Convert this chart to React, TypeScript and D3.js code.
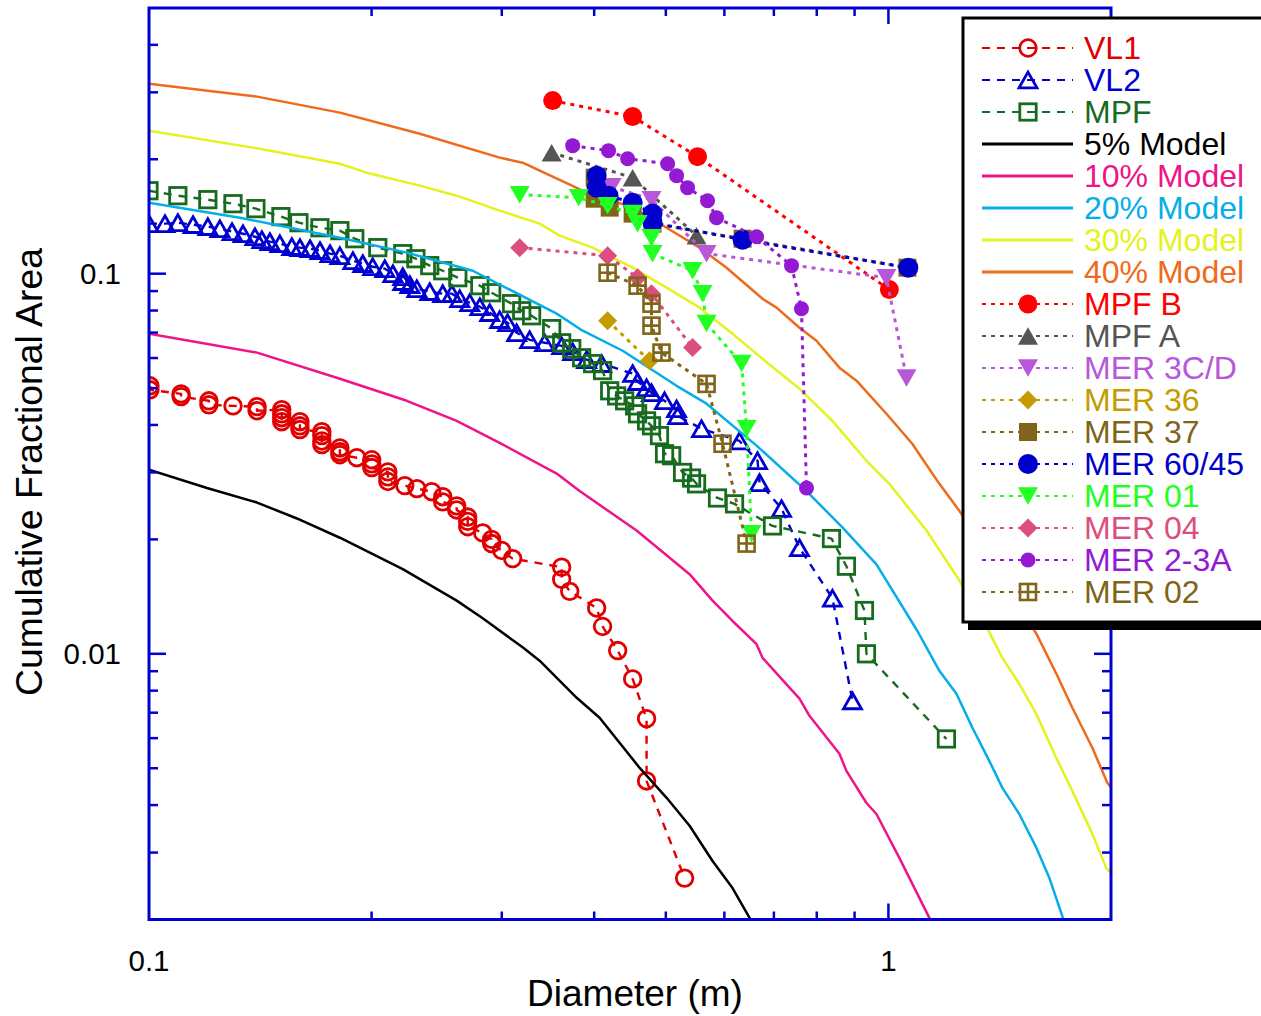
import * as d3 from "d3";

type Pt = [number, number];

// diameter (m), cumulative fractional area
const vl1: Pt[] = [
  [0.1003, 0.0507], [0.1003, 0.0495], [0.1105, 0.0483], [0.1105, 0.0475],
  [0.1205, 0.0463], [0.1205, 0.0452], [0.1299, 0.0449], [0.14, 0.0447], [0.14, 0.0436],
  [0.1512, 0.0439], [0.1512, 0.0428], [0.1512, 0.0418], [0.1512, 0.0408],
  [0.16, 0.0408], [0.16, 0.0398], [0.16, 0.0389],
  [0.1713, 0.0384], [0.1713, 0.0375], [0.1713, 0.0363], [0.1713, 0.0355],
  [0.1812, 0.0348], [0.1812, 0.034], [0.1812, 0.0334], [0.191, 0.0328],
  [0.2001, 0.0324], [0.2001, 0.0316], [0.2001, 0.0309],
  [0.2104, 0.0301], [0.2104, 0.0292], [0.2104, 0.0284],
  [0.2218, 0.0277], [0.2303, 0.0272], [0.2412, 0.0267],
  [0.2496, 0.0259], [0.2496, 0.0251], [0.2607, 0.0245], [0.2607, 0.0239],
  [0.2698, 0.0229], [0.2698, 0.0223], [0.2698, 0.0216], [0.2827, 0.0208],
  [0.2907, 0.02], [0.2907, 0.0195], [0.2999, 0.0187], [0.3103, 0.0178],
  [0.3615, 0.0169], [0.3615, 0.0157], [0.3707, 0.0146], [0.4031, 0.0132],
  [0.4106, 0.0118], [0.4304, 0.0102], [0.4509, 0.00859], [0.4709, 0.00675],
  [0.4709, 0.00463], [0.5301, 0.00257],
];

const vl2: Pt[] = [
  [0.1, 0.1354], [0.1051, 0.1354], [0.1094, 0.1362], [0.1147, 0.1346], [0.1201, 0.133],
  [0.1247, 0.1313], [0.1295, 0.129], [0.134, 0.1274], [0.1391, 0.1251], [0.1421, 0.1229],
  [0.1457, 0.1214], [0.1503, 0.1199], [0.156, 0.1178], [0.16, 0.1171], [0.1651, 0.1164],
  [0.1703, 0.115], [0.1757, 0.1129], [0.1812, 0.1115], [0.1887, 0.1082], [0.1946, 0.1063],
  [0.2007, 0.1043], [0.2084, 0.1031], [0.2137, 0.1], [0.2204, 0.0982], [0.2204, 0.0953],
  [0.2253, 0.0936], [0.2303, 0.0913], [0.2397, 0.0897], [0.2496, 0.0886], [0.2568, 0.0886],
  [0.2632, 0.0859], [0.2715, 0.0839], [0.2802, 0.0819], [0.2889, 0.079], [0.298, 0.0757],
  [0.3055, 0.0743], [0.3142, 0.0699], [0.3272, 0.067], [0.3428, 0.0658], [0.3615, 0.0646],
  [0.3741, 0.0623], [0.3907, 0.0594], [0.4094, 0.058], [0.4509, 0.0546], [0.4579, 0.052],
  [0.4709, 0.0501], [0.4782, 0.0486], [0.498, 0.0463], [0.517, 0.0441], [0.5187, 0.0423],
  [0.5588, 0.0391], [0.6289, 0.0363], [0.6653, 0.0322], [0.6695, 0.0282], [0.7169, 0.0241],
  [0.7581, 0.019], [0.8401, 0.014], [0.8941, 0.00752],
];

const mpf: Pt[] = [
  [0.1, 0.1653], [0.1094, 0.1604], [0.1201, 0.1566], [0.1299, 0.1528], [0.1395, 0.1483],
  [0.1508, 0.1413], [0.1595, 0.1362], [0.1703, 0.1321], [0.1812, 0.1298], [0.1898, 0.1236],
  [0.2039, 0.1171], [0.2204, 0.1129], [0.2296, 0.1095], [0.2397, 0.105], [0.2496, 0.1018],
  [0.2616, 0.0976], [0.2802, 0.093], [0.2907, 0.0891], [0.3093, 0.0834], [0.3192, 0.0799],
  [0.3292, 0.0775], [0.3504, 0.0717], [0.3615, 0.0658], [0.373, 0.0635], [0.3847, 0.0601],
  [0.3981, 0.058], [0.4106, 0.0556], [0.4198, 0.0492], [0.429, 0.0477], [0.4398, 0.0463],
  [0.4537, 0.0449], [0.4579, 0.0428], [0.4709, 0.041], [0.4782, 0.0398], [0.4902, 0.0375],
  [0.498, 0.0336], [0.5091, 0.0332], [0.5268, 0.03], [0.5417, 0.029], [0.5502, 0.028],
  [0.5873, 0.0257], [0.6193, 0.0248], [0.697, 0.0217], [0.8375, 0.0201], [0.8774, 0.017],
  [0.9281, 0.013], [0.9339, 0.01], [1.198, 0.00597],
];

const model5: Pt[] = [
  [0.1, 0.0305], [0.1198, 0.0273], [0.14, 0.025], [0.1585, 0.0227], [0.1812, 0.0202],
  [0.2204, 0.0167], [0.2607, 0.0138], [0.2827, 0.0124], [0.3201, 0.0104], [0.3375, 0.00959],
  [0.3788, 0.00766], [0.4068, 0.00679], [0.4609, 0.00501], [0.5012, 0.00418], [0.5384, 0.00353],
  [0.5783, 0.00285], [0.6154, 0.00242], [0.649, 0.00202], [0.655, 0.00195],
];

const model10: Pt[] = [
  [0.1, 0.0695], [0.14, 0.062], [0.1812, 0.0529], [0.2232, 0.0463], [0.2607, 0.041],
  [0.298, 0.0359], [0.3559, 0.0298], [0.3823, 0.0268], [0.4565, 0.0211], [0.5384, 0.0162],
  [0.5783, 0.0138], [0.6154, 0.0122], [0.6633, 0.0106], [0.6757, 0.00976], [0.7169, 0.00859],
  [0.7581, 0.00762], [0.782, 0.00687], [0.8585, 0.00546], [0.8774, 0.00492], [0.9339, 0.00405],
  [0.9634, 0.00379], [1.035, 0.0029], [1.136, 0.00202], [1.145, 0.00195],
];

const model20: Pt[] = [
  [0.1, 0.1537], [0.1327, 0.1404], [0.1812, 0.1243], [0.2232, 0.1136], [0.2741, 0.1018],
  [0.3559, 0.0785], [0.3859, 0.0708], [0.4371, 0.0627], [0.517, 0.0507], [0.5676, 0.0455],
  [0.6633, 0.0353], [0.7749, 0.0268], [0.8665, 0.0215], [0.9634, 0.0172], [1.094, 0.0115],
  [1.172, 0.00902], [1.236, 0.00785], [1.299, 0.00639], [1.369, 0.00523], [1.426, 0.00444],
  [1.503, 0.00379], [1.585, 0.00309], [1.651, 0.00257], [1.719, 0.00204], [1.729, 0.00196],
];

const model30: Pt[] = [
  [0.1, 0.2378], [0.1382, 0.2146], [0.1812, 0.1947], [0.197, 0.1844], [0.2324, 0.1705],
  [0.2607, 0.1604], [0.298, 0.1465], [0.3375, 0.1354], [0.3592, 0.1259], [0.3981, 0.1171],
  [0.4509, 0.1037], [0.5012, 0.0919], [0.5554, 0.0814], [0.6154, 0.0695], [0.6757, 0.0597],
  [0.7581, 0.0498], [0.8401, 0.041], [0.9339, 0.0322], [1.003, 0.028], [1.126, 0.0211],
  [1.247, 0.0156], [1.369, 0.0114], [1.426, 0.00976], [1.503, 0.00834], [1.585, 0.00695],
  [1.687, 0.00532], [1.773, 0.00436], [1.887, 0.00336], [1.971, 0.00273], [2.01, 0.00262],
];

const model40: Pt[] = [
  [0.1, 0.3162], [0.14, 0.2923], [0.1812, 0.2653], [0.2324, 0.2335], [0.298, 0.202],
  [0.3201, 0.1959], [0.3859, 0.1653], [0.4509, 0.1492], [0.5012, 0.1321], [0.5554, 0.1171],
  [0.604, 0.1037], [0.6757, 0.0859], [0.7058, 0.0814], [0.7581, 0.0721], [0.7993, 0.0666],
  [0.8585, 0.0566], [0.9053, 0.0523], [0.9938, 0.0428], [1.077, 0.0357], [1.172, 0.028],
  [1.247, 0.0238], [1.585, 0.0113], [1.687, 0.00886], [1.773, 0.00721], [1.887, 0.00566],
  [1.977, 0.00458], [2.01, 0.0044],
];

const mpfB: Pt[] = [[0.3515, 0.2853], [0.4509, 0.259], [0.5519, 0.2032], [1.003, 0.0908]];
const mpfA: Pt[] = [[0.3504, 0.2082], [0.4509, 0.1789], [0.5502, 0.1259]];
const mer3cd: Pt[] = [[0.4224, 0.1694], [0.4782, 0.1566], [0.5676, 0.1129], [0.9938, 0.0976], [1.058, 0.0532]];
const mer36: Pt[] = [[0.4171, 0.0752], [0.4753, 0.059]];
const mer37: Pt[] = [
  [0.4006, 0.1789], [0.4006, 0.1575], [0.4198, 0.1492], [0.4509, 0.1439],
  [0.4797, 0.1354], [0.635, 0.1236], [1.061, 0.1037],
];
const mer6045: Pt[] = [
  [0.4031, 0.1811], [0.4031, 0.1684], [0.4183, 0.1604], [0.4509, 0.1537],
  [0.4797, 0.1439], [0.4797, 0.1362], [0.635, 0.1229], [1.064, 0.1037],
];
const mer01: Pt[] = [
  [0.3172, 0.1614], [0.3812, 0.1585], [0.4171, 0.151], [0.4509, 0.1439], [0.4579, 0.1354],
  [0.4782, 0.1243], [0.4797, 0.1129], [0.5434, 0.1018], [0.5606, 0.0886], [0.5676, 0.0739],
  [0.633, 0.058], [0.643, 0.0391], [0.6531, 0.0207],
];
const mer04: Pt[] = [[0.3172, 0.1171], [0.4171, 0.1115], [0.4579, 0.0976], [0.4782, 0.0886], [0.5434, 0.0639]];
const mer23a: Pt[] = [
  [0.3741, 0.2172], [0.4183, 0.2107], [0.4439, 0.2007], [0.5028, 0.1947], [0.517, 0.1811],
  [0.535, 0.1684], [0.5694, 0.1556], [0.5855, 0.1404], [0.6633, 0.1251], [0.7395, 0.105],
  [0.7628, 0.0809], [0.7749, 0.0273],
];
const mer02: Pt[] = [
  [0.4171, 0.1006], [0.4579, 0.093], [0.4782, 0.0834], [0.4782, 0.073],
  [0.4933, 0.062], [0.5676, 0.0513], [0.5966, 0.0357], [0.643, 0.0195],
];

const xTickLabels = [0.1, 1];
const yTickLabels = [0.01, 0.1];

type Kind = "circle" | "triUp" | "triDown" | "square" | "diamond" | "squareCross" | "none";

interface Series {
  name: string;
  data: Pt[];
  color: string;
  marker: Kind;
  filled: boolean;
  size: number;
  dash: string | null;
  width: number;
}

const DASH = "8,7";
const DOT = "4,5";

const series: Series[] = [
  { name: "VL1", data: vl1, color: "#e10000", marker: "circle", filled: false, size: 8.3, dash: DASH, width: 2.4 },
  { name: "VL2", data: vl2, color: "#0000d0", marker: "triUp", filled: false, size: 9, dash: DASH, width: 2.4 },
  { name: "MPF", data: mpf, color: "#176b1f", marker: "square", filled: false, size: 8.2, dash: DASH, width: 2.4 },
  { name: "5% Model", data: model5, color: "#000000", marker: "none", filled: false, size: 0, dash: null, width: 2.5 },
  { name: "10% Model", data: model10, color: "#ee1489", marker: "none", filled: false, size: 0, dash: null, width: 2.5 },
  { name: "20% Model", data: model20, color: "#05aee8", marker: "none", filled: false, size: 0, dash: null, width: 2.5 },
  { name: "30% Model", data: model30, color: "#e4f21e", marker: "none", filled: false, size: 0, dash: null, width: 2.5 },
  { name: "40% Model", data: model40, color: "#ef6a1a", marker: "none", filled: false, size: 0, dash: null, width: 2.5 },
  { name: "MPF B", data: mpfB, color: "#ff0000", marker: "circle", filled: true, size: 9.5, dash: DOT, width: 3 },
  { name: "MPF A", data: mpfA, color: "#555555", marker: "triUp", filled: true, size: 10, dash: DOT, width: 3 },
  { name: "MER 3C/D", data: mer3cd, color: "#b857d8", marker: "triDown", filled: true, size: 10, dash: DOT, width: 3 },
  { name: "MER 36", data: mer36, color: "#c49c00", marker: "diamond", filled: true, size: 9.5, dash: DOT, width: 3 },
  { name: "MER 37", data: mer37, color: "#806418", marker: "square", filled: true, size: 9, dash: DOT, width: 3 },
  { name: "MER 60/45", data: mer6045, color: "#0000cc", marker: "circle", filled: true, size: 10, dash: DOT, width: 3 },
  { name: "MER 01", data: mer01, color: "#22ff22", marker: "triDown", filled: true, size: 10, dash: DOT, width: 3 },
  { name: "MER 04", data: mer04, color: "#dc4e7e", marker: "diamond", filled: true, size: 9.5, dash: DOT, width: 3 },
  { name: "MER 2-3A", data: mer23a, color: "#9419d2", marker: "circle", filled: true, size: 7.5, dash: DOT, width: 3 },
  { name: "MER 02", data: mer02, color: "#806418", marker: "squareCross", filled: false, size: 8, dash: DOT, width: 3 },
];

const W = 1261;
const H = 1016;
const left = 149;
const right = 1111;
const top = 8;
const bottom = 919.5;
const AXIS = "#0000d0";
const FONT = "'Liberation Sans', Arial, Helvetica, sans-serif";

const x = d3.scaleLog().domain([0.1, 2]).range([left, right]);
const y = d3.scaleLog().domain([0.002, 0.5]).range([bottom, top]);

function Marker({ s, cx, cy }: { s: Series; cx: number; cy: number }) {
  const fill = s.filled ? s.color : "none";
  const stroke = s.filled ? "none" : s.color;
  const sw = 2.8;
  const r = s.size;
  if (s.marker === "circle") {
    return <circle cx={cx} cy={cy} r={r} fill={fill} stroke={stroke} strokeWidth={sw} />;
  }
  if (s.marker === "triUp") {
    const h = r * 1.75;
    return (
      <path
        d={`M${cx},${cy - h / 2}L${cx + r},${cy + h / 2}L${cx - r},${cy + h / 2}Z`}
        fill={fill}
        stroke={stroke}
        strokeWidth={sw}
        strokeLinejoin="miter"
      />
    );
  }
  if (s.marker === "triDown") {
    const h = r * 1.75;
    return <path d={`M${cx - r},${cy - h / 2}L${cx + r},${cy - h / 2}L${cx},${cy + h / 2}Z`} fill={fill} />;
  }
  if (s.marker === "square") {
    return <rect x={cx - r} y={cy - r} width={2 * r} height={2 * r} fill={fill} stroke={stroke} strokeWidth={sw} />;
  }
  if (s.marker === "diamond") {
    return <path d={`M${cx},${cy - r}L${cx + r},${cy}L${cx},${cy + r}L${cx - r},${cy}Z`} fill={fill} />;
  }
  if (s.marker === "squareCross") {
    return (
      <g stroke={s.color} strokeWidth={2.6} fill="none">
        <rect x={cx - r} y={cy - r} width={2 * r} height={2 * r} />
        <path d={`M${cx - r},${cy}H${cx + r}M${cx},${cy - r}V${cy + r}`} />
      </g>
    );
  }
  return null;
}

const isMajor = (v: number) => Math.abs(Math.log10(v) - Math.round(Math.log10(v))) < 1e-6;

export default function App() {
  const line = d3
    .line<Pt>()
    .x((d) => x(d[0]))
    .y((d) => y(d[1]));

  const xTicks = x.ticks().filter((v) => v > 0.1 && v < 2);
  const yTicks = y.ticks().filter((v) => v > 0.002 && v < 0.5);

  const legX = 963;
  const legY = 18;
  const rowY = (i: number) => 48 + 32 * i;

  return (
    <svg
      width={W}
      height={H}
      style={{ position: "absolute", left: 0, top: 0, background: "#fff" }}
      fontFamily={FONT}
    >
      <defs>
        <clipPath id="plot">
          <rect x={left} y={top} width={right - left} height={bottom - top} />
        </clipPath>
      </defs>
      <rect width={W} height={H} fill="#fff" />

      {/* series */}
      <g clipPath="url(#plot)">
        {series.map((s) => (
          <g key={s.name}>
            <path
              d={line(s.data) || ""}
              fill="none"
              stroke={s.color}
              strokeWidth={s.width}
              strokeDasharray={s.dash || undefined}
              strokeLinejoin="round"
            />
            {s.marker !== "none" &&
              s.data.map((d, i) => <Marker key={i} s={s} cx={x(d[0])} cy={y(d[1])} />)}
          </g>
        ))}
      </g>

      {/* frame and ticks */}
      <g stroke={AXIS} strokeWidth={2.5}>
        {xTicks.map((v) => {
          const len = isMajor(v) ? 16 : 8;
          return (
            <g key={"x" + v}>
              <line x1={x(v)} x2={x(v)} y1={bottom} y2={bottom - len} />
              <line x1={x(v)} x2={x(v)} y1={top} y2={top + len} />
            </g>
          );
        })}
        {yTicks.map((v) => {
          const len = isMajor(v) ? 17 : 9;
          return (
            <g key={"y" + v}>
              <line x1={left} x2={left + len} y1={y(v)} y2={y(v)} />
              <line x1={right} x2={right - len} y1={y(v)} y2={y(v)} />
            </g>
          );
        })}
        <rect x={left} y={top} width={right - left} height={bottom - top} fill="none" strokeWidth={3} />
      </g>

      {/* tick labels */}
      <g fontSize={29.5} fill="#000">
        {yTickLabels.map((v) => (
          <text key={v} x={121} y={y(v) + 10} textAnchor="end">
            {String(v)}
          </text>
        ))}
        {xTickLabels.map((v) => (
          <text key={v} x={x(v)} y={971} textAnchor="middle">
            {String(v)}
          </text>
        ))}
      </g>

      {/* axis titles */}
      <text x={635} y={1006} fontSize={37} textAnchor="middle" fill="#000">
        Diameter (m)
      </text>
      <text transform="translate(42,472) rotate(-90)" fontSize={37.3} textAnchor="middle" fill="#000">
        Cumulative Fractional Area
      </text>

      {/* legend */}
      <rect x={legX + 5} y={legY + 8} width={320} height={604} fill="#000" />
      <rect x={legX} y={legY} width={320} height={604} fill="#fff" stroke="#000" strokeWidth={3} />
      {series.map((s, i) => {
        const yy = rowY(i);
        return (
          <g key={"leg" + s.name}>
            <line
              x1={982}
              x2={1073}
              y1={yy}
              y2={yy}
              stroke={s.color}
              strokeWidth={s.marker === "none" ? 3 : 2.2}
              strokeDasharray={s.dash || undefined}
            />
            {s.marker !== "none" && <Marker s={s} cx={1028} cy={yy} />}
            <text x={1084} y={yy + 11} fontSize={32} fill={s.color}>
              {s.name}
            </text>
          </g>
        );
      })}
    </svg>
  );
}
